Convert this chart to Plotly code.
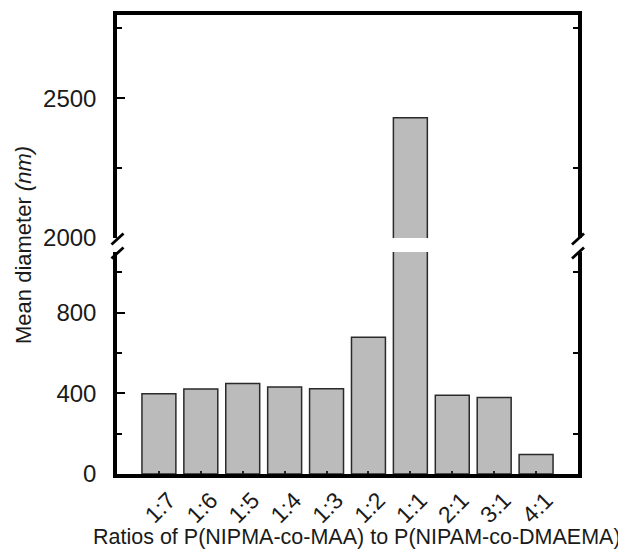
import plotly.graph_objects as go

ratios = ["1:7", "1:6", "1:5", "1:4", "1:3", "1:2", "1:1", "2:1", "3:1", "4:1"]
diameters = [398, 421, 448, 431, 423, 678, 2430, 390, 379, 97]

lower_ticks = [0, 400, 800]
lower_minor = [200, 600, 1000]
upper_ticks = [2000, 2500]
upper_minor = [2250, 2750]
lower_range = [0, 1100]
upper_range = [2000, 2797.5]

# page body has an 8px margin; compensate so the figure lands where the reference is
OFF = 8
W, H = 626 - OFF, 551 - OFF
ML, MR, MT, MB = 117 - OFF, 48, 15 - OFF, 77
PW, PH = W - ML - MR, H - MT - MB

def py(ypix):  # reference-screen pixel -> paper fraction
    return (H - MB - (ypix - OFF)) / PH

def px(xpix):
    return (xpix - OFF - ML) / PW

low_dom = [0, py(252)]
up_dom = [py(238), 1]

bar_style = dict(marker=dict(color="#bbbbbb", line=dict(color="#2a2a2a", width=1.5)),
                 width=0.81, showlegend=False)

fig = go.Figure()
fig.add_trace(go.Bar(x=ratios, y=diameters, xaxis="x", yaxis="y", **bar_style))
fig.add_trace(go.Bar(x=ratios, y=diameters, xaxis="x2", yaxis="y2", **bar_style))

FAM = "Liberation Sans, Arial, sans-serif"
font_tick = dict(family=FAM, size=24, color="#1a1a1a")
LW = 3.5

fig.update_layout(
    width=W, height=H,
    margin=dict(l=ML, r=MR, t=MT, b=MB),
    plot_bgcolor="white", paper_bgcolor="white",
    font=dict(family=FAM, color="#1a1a1a"),
    xaxis=dict(domain=[0, 1], anchor="y", range=[-1, 10], showline=True, linecolor="black",
               linewidth=LW, ticks="inside", ticklen=3, tickwidth=2, tickcolor="#222",
               tickangle=-45, tickfont=dict(family=FAM, size=23, color="#1a1a1a"),
               ticklabelshift=10, ticklabelstandoff=0,
               showgrid=False, zeroline=False),
    xaxis2=dict(domain=[0, 1], anchor="y2", range=[-1, 10], matches="x", showline=True,
                linecolor="black", linewidth=LW, side="top", showticklabels=False,
                ticks="", showgrid=False, zeroline=False),
    yaxis=dict(domain=low_dom, anchor="x", range=lower_range, showline=True, linecolor="black",
               linewidth=LW, mirror=True, ticks="inside", ticklen=8, tickwidth=2.2, tickcolor="black",
               tickvals=lower_ticks, ticktext=[str(v) for v in lower_ticks],
               minor=dict(tickvals=lower_minor, ticks="inside", ticklen=5, tickwidth=2, tickcolor="black"),
               tickfont=font_tick, ticklabelstandoff=12, showgrid=False, zeroline=False),
    yaxis2=dict(domain=up_dom, anchor="x2", range=upper_range, showline=True, linecolor="black",
                linewidth=LW, mirror=True, ticks="inside", ticklen=8, tickwidth=2.2, tickcolor="black",
                tickvals=upper_ticks, ticktext=[str(v) for v in upper_ticks],
                minor=dict(tickvals=upper_minor, ticks="inside", ticklen=5, tickwidth=2, tickcolor="black"),
                tickfont=font_tick, ticklabelstandoff=12, showgrid=False, zeroline=False),
    yaxis3=dict(domain=low_dom, anchor="x", overlaying="y", side="right", range=lower_range,
                tickvals=lower_minor, ticks="inside", ticklen=5, tickwidth=2, tickcolor="black",
                showticklabels=False, showgrid=False, zeroline=False, showline=False),
    yaxis4=dict(domain=up_dom, anchor="x2", overlaying="y2", side="right", range=upper_range,
                tickvals=upper_minor, ticks="inside", ticklen=5, tickwidth=2, tickcolor="black",
                showticklabels=False, showgrid=False, zeroline=False, showline=False),
)

# invisible traces to activate the right-side minor-tick axes
fig.add_trace(go.Scatter(x=[ratios[0]], y=[lower_range[0]], xaxis="x", yaxis="y3",
                         mode="markers", marker=dict(opacity=0), showlegend=False, hoverinfo="skip"))
fig.add_trace(go.Scatter(x=[ratios[0]], y=[upper_range[0]], xaxis="x2", yaxis="y4",
                         mode="markers", marker=dict(opacity=0), showlegend=False, hoverinfo="skip"))

# axis-break marks
shapes = []
for xc_pix in (117.5, 578.0):
    shapes.append(dict(type="rect", xref="paper", yref="paper",
                       x0=px(xc_pix - 4), x1=px(xc_pix + 4), y0=py(252), y1=py(238),
                       line=dict(width=0), fillcolor="white", layer="above"))
    for yc in (239.0, 253.0):
        shapes.append(dict(type="line", xref="paper", yref="paper",
                           x0=px(xc_pix - 6), y0=py(yc + 5.5), x1=px(xc_pix + 6), y1=py(yc - 5.5),
                           line=dict(color="black", width=2.8), layer="above"))
fig.update_layout(shapes=shapes)

fig.add_annotation(text="Mean diameter <i>(nm)</i>", xref="paper", yref="paper",
                   x=px(23), y=py(245), textangle=-90, showarrow=False,
                   xanchor="center", yanchor="middle",
                   font=dict(family=FAM, size=22, color="#1a1a1a"))
fig.add_annotation(text="Ratios of P(NIPMA-co-MAA) to P(NIPAM-co-DMAEMA)", xref="paper", yref="paper",
                   x=px(357), y=py(537), showarrow=False, xanchor="center", yanchor="middle",
                   font=dict(family=FAM, size=21.5, color="#1a1a1a"))

fig.write_html("out.html")
